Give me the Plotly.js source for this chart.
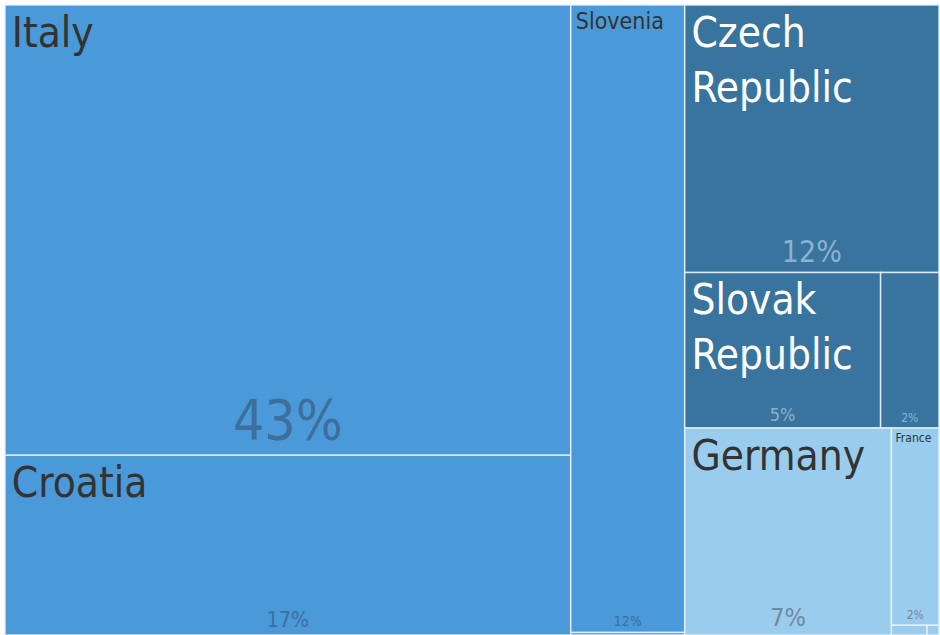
<!DOCTYPE html>
<html>
<head>
<meta charset="utf-8">
<script src="https://cdn.plot.ly/plotly-3.0.1.min.js"></script>
<style>html,body{margin:0;padding:0;background:#fff;}#chart{width:940px;height:635px;}</style>
</head>
<body>
<div id="chart"></div>
<script>
// ---- data ----
const groupIds    = ["grpA", "grpB", "grpC"];
const groupColors = ["#4a99d8", "#38749e", "#9acded"];

const tileIds   = ["Italy", "Croatia", "Slovenia", "OtherA", "Czech", "Slovak", "OtherB", "Germany", "France", "OtherC1", "OtherC2"];
const tileNames = ["Italy", "Croatia", "Slovenia", "", "Czech<br>Republic", "Slovak<br>Republic", "", "Germany", "France", "", ""];
const tileGroup = ["grpA", "grpA", "grpA", "grpA", "grpB", "grpB", "grpB", "grpC", "grpC", "grpC", "grpC"];
const shares    = [43.45, 17.35, 12.2, 0.05, 11.6, 5.2, 1.55, 7.3, 1.6, 0.06, 0.02];

// ---- styles ----
const FONT = "'DejaVu Sans Condensed', 'Liberation Sans Narrow', sans-serif";
const labelSize  = {Italy: 42, Croatia: 42, Slovenia: 23, Czech: 42, Slovak: 42, Germany: 42, France: 12};
const pctSize    = {Italy: 55, Croatia: 21, Slovenia: 14, Czech: 30, Slovak: 18, OtherB: 12, Germany: 25, France: 12};
const labelColor = {grpA: "#333333", grpB: "#ffffff", grpC: "#333333"};
const pctColor   = {grpA: "#3e6e9b", grpB: "#8cb2d0", grpC: "#6e889c"};

const ids = groupIds.concat(tileIds);
// hair-space indent on each line of the name, like the reference's inner padding
const labels = groupIds.map(() => "").concat(tileNames.map(n => n ? n.split("<br>").map(s => "\u200A" + s).join("<br>") : ""));
const parents = groupIds.map(() => "").concat(tileGroup);
const values = groupIds.map(() => 0).concat(shares);
const colors = groupColors.concat(tileGroup.map(g => groupColors[groupIds.indexOf(g)]));

const labelTpl = groupIds.map(() => "").concat(tileIds.map(id => labelSize[id] ? "%{label}" : ""));
const labelSz  = groupIds.map(() => 10).concat(tileIds.map(id => labelSize[id] || 10));
const labelCol = groupIds.map(() => "#333").concat(tileGroup.map(g => labelColor[g]));

const pctTpl = groupIds.map(() => "").concat(tileIds.map(id => pctSize[id] ? "%{percentRoot:.0%}" : ""));
const pctSz  = groupIds.map(() => 10).concat(tileIds.map(id => pctSize[id] || 10));
const pctCol = groupIds.map(() => "#333").concat(tileGroup.map(g => pctColor[g]));

const common = {
  type: "treemap",
  ids: ids, labels: labels, parents: parents, values: values,
  branchvalues: "remainder",
  sort: true,
  tiling: {packing: "squarify", squarifyratio: 1.618, pad: 0},
  pathbar: {visible: false},
  hoverinfo: "skip",
  domain: {x: [0, 1], y: [0, 1]}
};

const base = Object.assign({}, common, {
  marker: {colors: colors, line: {color: "rgba(235,242,250,0.85)", width: 1.5}, pad: {t: 0, l: 0, r: 0, b: 0}},
  texttemplate: labelTpl,
  textposition: "top left",
  textfont: {family: FONT, size: labelSz, color: labelCol}
});

const pct = Object.assign({}, common, {
  marker: {colors: ids.map(() => "rgba(0,0,0,0)"), line: {width: 0}, pad: {t: 0, l: 0, r: 0, b: 0}},
  texttemplate: pctTpl,
  textposition: "bottom center",
  textfont: {family: FONT, size: pctSz, color: pctCol}
});

Plotly.newPlot("chart", [base, pct], {
  width: 940, height: 635,
  margin: {l: 5, r: 1, t: 5, b: 0},
  paper_bgcolor: "#ffffff",
  showlegend: false
}, {displayModeBar: false, staticPlot: true});
</script>
</body>
</html>
